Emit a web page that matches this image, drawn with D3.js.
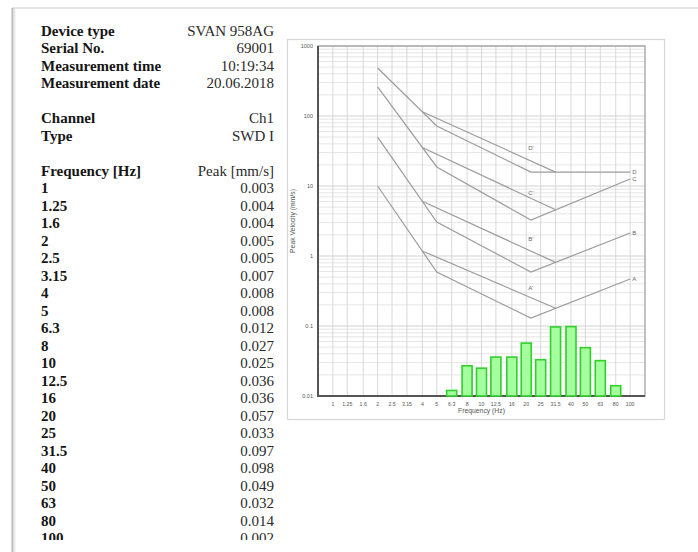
<!DOCTYPE html>
<html><head><meta charset="utf-8">
<script src="https://cdn.jsdelivr.net/npm/d3@7"></script>
<style>html,body{margin:0;padding:0;background:#fff;}svg{display:block;}</style>
</head><body>
<svg id="c" width="698" height="552"></svg>
<script>
// ---- data ----
const infoLabels = ["Device type","Serial No.","Measurement time","Measurement date"];
const infoValues = ["SVAN 958AG","69001","10:19:34","20.06.2018"];
const chanLabels = ["Channel","Type"];
const chanValues = ["Ch1","SWD I"];
const headerLabels = ["Frequency [Hz]","Peak [mm/s]"];
const freqLabels = ["1","1.25","1.6","2","2.5","3.15","4","5","6.3","8","10","12.5","16","20","25","31.5","40","50","63","80","100"];
const peakText = ["0.003","0.004","0.004","0.005","0.005","0.007","0.008","0.008","0.012","0.027","0.025","0.036","0.036","0.057","0.033","0.097","0.098","0.049","0.032","0.014","0.002"];
const peakValues = peakText.map(Number);
const yTicks = [0.01,0.1,1,10,100,1000];
const yTickLabels = ["0.01","0.1","1","10","100","1000"];
// limit curves [frequency Hz, mm/s]
const lineD = [[2,485],[5,72],[21.5,15.8],[100,15.8]];
const lineC = [[2,260],[5,18.7],[21.5,3.27],[100,12.6]];
const lineB = [[2,50],[5,3.06],[21.5,0.59],[100,2.13]];
const lineA = [[2,10],[5,0.59],[21.5,0.13],[100,0.47]];
const lineDp = [[4,115],[31.5,15.8]];
const lineCp = [[4,35.5],[31.5,4.57]];
const lineBp = [[4,6.05],[31.5,0.81]];
const lineAp = [[4,1.18],[31.5,0.179]];
const mainNames = ["D","C","B","A"];
const primeNames = ["D'","C'","B'","A'"];
const primeLabelPos = [[21.5,35],[21.5,7.9],[21.5,1.75],[21.5,0.35]];

const svg = d3.select("#c");
// page card
svg.append("rect").attr("x",0).attr("y",0).attr("width",698).attr("height",552).attr("fill","#fff");
svg.append("line").attr("x1",12).attr("x2",698).attr("y1",8).attr("y2",8).attr("stroke","#e4e4e4").attr("stroke-width",2);
svg.append("line").attr("x1",12.5).attr("x2",12.5).attr("y1",8).attr("y2",552).attr("stroke","#b8b8b8").attr("stroke-width",2);
svg.append("line").attr("x1",14.5).attr("x2",14.5).attr("y1",9).attr("y2",552).attr("stroke","#e8e8e8").attr("stroke-width",2);

// ---- table ----
const tbl = svg.append("g").attr("font-family","'Liberation Serif','Times New Roman',serif").attr("font-size",15);
const rows = [];
infoLabels.forEach((l,i)=>rows.push([l,infoValues[i]]));
rows.push(null);
chanLabels.forEach((l,i)=>rows.push([l,chanValues[i]]));
rows.push(null);
rows.push(headerLabels);
freqLabels.forEach((l,i)=>rows.push([l,peakText[i]]));
const rowY = i => 35.5 + i*17.5;
rows.forEach((r,i)=>{
  if(!r) return;
  tbl.append("text").attr("x",41).attr("y",rowY(i)).attr("font-weight","bold").attr("fill","#151515").text(r[0]);
  tbl.append("text").attr("x",274).attr("y",rowY(i)).attr("text-anchor","end").attr("fill","#2a2a2a").text(r[1]);
});
// clip bottom of page view
svg.append("rect").attr("x",16).attr("y",540).attr("width",682).attr("height",12).attr("fill","#fff");

// ---- chart ----
svg.append("rect").attr("x",287.5).attr("y",39.5).attr("width",377).attr("height",380).attr("fill","#fff").attr("stroke","#d6d6d6").attr("stroke-width",1.2);

const L=318,R=645,T=46,B=396;
const x = d3.scaleLog().domain([Math.pow(10,-0.1),Math.pow(10,2.1)]).range([L,R]);
const y = d3.scaleLog().domain([0.01,1000]).range([B,T]);
const g = svg.append("g");

// horizontal grid
const minor=[];
for(let e=-2;e<3;e++) for(let m=2;m<=9;m++) minor.push(m*Math.pow(10,e));
g.selectAll(".hm").data(minor).enter().append("line")
  .attr("x1",L).attr("x2",R).attr("y1",d=>y(d)).attr("y2",d=>y(d))
  .attr("stroke","#dedede").attr("stroke-width",0.8);
g.selectAll(".hM").data(yTicks).enter().append("line")
  .attr("x1",L).attr("x2",R).attr("y1",d=>y(d)).attr("y2",d=>y(d))
  .attr("stroke","#d2d2d2").attr("stroke-width",1.2);
// vertical grid
g.selectAll(".vg").data(freqLabels).enter().append("line")
  .attr("x1",d=>x(+d)).attr("x2",d=>x(+d)).attr("y1",T).attr("y2",B)
  .attr("stroke","#d4d4d4").attr("stroke-width",0.9);

// plot frame
g.append("rect").attr("x",L).attr("y",T).attr("width",R-L).attr("height",B-T).attr("fill","none").attr("stroke","#9a9a9a").attr("stroke-width",1.2);
g.append("line").attr("x1",L).attr("x2",L).attr("y1",T).attr("y2",B+1).attr("stroke","#555").attr("stroke-width",2);
g.append("line").attr("x1",L-1).attr("x2",R).attr("y1",B).attr("y2",B).attr("stroke","#555").attr("stroke-width",2);

// bars
const bw = 10;
g.selectAll(".bar").data(freqLabels.map((f,i)=>({f:+f,v:peakValues[i]})).filter(d=>d.v>0.01)).enter().append("rect")
  .attr("x",d=>x(d.f)-bw/2).attr("width",bw)
  .attr("y",d=>y(d.v)).attr("height",d=>B-y(d.v))
  .attr("fill","#a6ff9e").attr("stroke","#2fd12a").attr("stroke-width",1.6);

// limit lines
const lg = d3.line().x(d=>x(d[0])).y(d=>y(d[1]));
[lineD,lineC,lineB,lineA,lineDp,lineCp,lineBp,lineAp].forEach(l=>{
  g.append("path").attr("d",lg(l)).attr("fill","none").attr("stroke","#9c9c9c").attr("stroke-width",1.2);
});
const lab = svg.append("g").attr("font-family","'Liberation Sans',Arial,sans-serif").attr("font-size",6).attr("fill","#666");
[lineD,lineC,lineB,lineA].forEach((l,i)=>{
  const p=l[l.length-1];
  lab.append("text").attr("x",x(p[0])+2).attr("y",y(p[1])+2).text(mainNames[i]);
});
primeLabelPos.forEach((p,i)=>{
  lab.append("text").attr("x",x(p[0])).attr("y",y(p[1])+2).attr("text-anchor","middle").text(primeNames[i]);
});

// tick labels
const tk = svg.append("g").attr("font-family","'Liberation Sans',Arial,sans-serif").attr("fill","#555");
tk.selectAll(".yt").data(yTicks).enter().append("text")
  .attr("x",313).attr("y",d=>y(d)+2).attr("text-anchor","end").attr("font-size",5.5)
  .text((d,i)=>yTickLabels[i]);
tk.selectAll(".xt").data(freqLabels).enter().append("text")
  .attr("x",d=>x(+d)).attr("y",406).attr("text-anchor","middle").attr("font-size",5.2)
  .text(d=>d);
tk.append("text").attr("x",(L+R)/2).attr("y",413).attr("text-anchor","middle").attr("font-size",6.8).text("Frequency (Hz)");
tk.append("text").attr("transform",`translate(295,${(T+B)/2}) rotate(-90)`).attr("text-anchor","middle").attr("font-size",6.8).text("Peak Velocity (mm/s)");
</script>
</body></html>
